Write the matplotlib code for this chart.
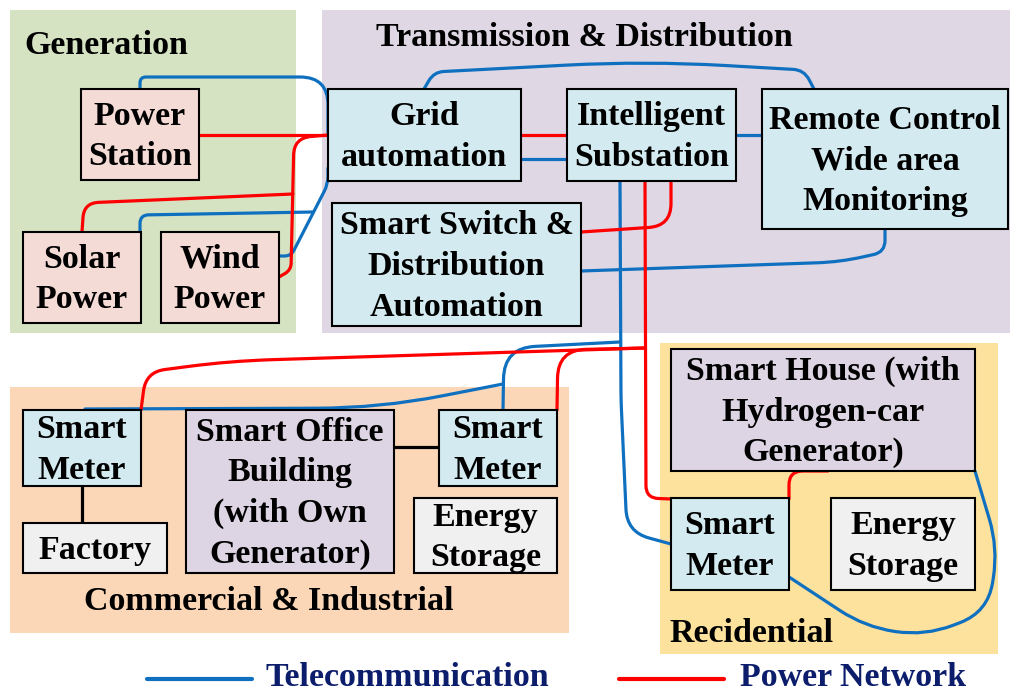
import numpy as np
import matplotlib
matplotlib.use('Agg')
import matplotlib.pyplot as plt
from matplotlib.path import Path
from matplotlib.patches import PathPatch, Rectangle

FONT = ['Liberation Serif', 'DejaVu Serif']
FS = 24.5
BLUE = '#1070c0'
RED = '#ff0000'
NAVY = '#0b1d6b'

# --- diagram content ---
region_names = ['Generation', 'Transmission & Distribution', 'Commercial & Industrial', 'Recidential']
region_colors = ['#d5e3c2', '#dfd7e4', '#fbd6b7', '#fde29e']

box_labels = [
    'Power\nStation', 'Solar\nPower', 'Wind\nPower',
    'Grid\nautomation', 'Intelligent\nSubstation', 'Remote Control\nWide area\nMonitoring',
    'Smart Switch &\nDistribution\nAutomation',
    'Smart\nMeter', 'Factory', 'Smart Office\nBuilding\n(with Own\nGenerator)', 'Smart\nMeter', 'Energy\nStorage',
    'Smart House (with\nHydrogen-car\nGenerator)', 'Smart\nMeter', 'Energy\nStorage',
]
box_kinds = ['source', 'source', 'source',
             'grid', 'grid', 'grid', 'grid',
             'grid', 'plain', 'building', 'grid', 'plain',
             'building', 'grid', 'plain']
kind_fill = {'source': '#f5dbd6', 'grid': '#d3ebf0', 'building': '#ddd5e3', 'plain': '#f0f0f0'}

legend_labels = ['Telecommunication', 'Power Network']

# --- layout (pixel coordinates, y down) ---
region_rects = [(10, 10, 296, 333), (322, 10, 1010, 333), (10, 387, 569, 633), (660, 343, 998, 654)]
region_label_pos = [(24, 45, 'left'), (584, 37, 'center'), (269, 601, 'center'), (669, 633, 'left')]

box_rects = [
    (81, 89, 199, 180), (23, 232, 141, 323), (161, 232, 279, 323),
    (328, 89, 521, 181), (567, 89, 736, 181), (762, 89, 1008, 229),
    (332, 203, 581, 326),
    (23, 410, 141, 486), (23, 523, 167, 573), (186, 410, 394, 573), (439, 410, 557, 486), (414, 498, 557, 573),
    (671, 349, 975, 471), (671, 498, 789, 590), (831, 498, 975, 590),
]

telecom_wires = [
    ([(140, 89), (140, 77), (328, 77), (328, 133)], [12, 45]),
    ([(328, 168), (328, 184), (291, 256), (278, 256)], [14, 8]),
    ([(140, 232), (140, 215), (313, 212)], [14]),
    ([(521, 159), (567, 159)], []),
    ([(736, 135), (762, 135)], []),
    ([(424, 89), (434, 72), (646, 61), (804, 70), (814, 89)], [14, 120, 14]),
    ([(885, 229), (885, 252), (840, 262), (581, 271)], [18, 30]),
    ([(620, 181), (621, 400), (627, 532), (671, 544)], [10, 30]),
    ([(620, 342), (504, 348), (503, 410)], [32]),
    ([(85, 409), (380, 408), (503, 384)], [70]),
    ([(975, 471), (998, 548), (988, 612), (925, 636), (865, 627), (789, 577)], [30, 30, 30, 30]),
]
power_wires = [
    ([(199, 135), (328, 135)], []),
    ([(328, 135), (294, 138), (291, 270), (279, 277)], [18, 8]),
    ([(82, 232), (84, 203), (293, 194)], [25]),
    ([(521, 135), (567, 135)], []),
    ([(671, 181), (671, 226), (581, 232)], [25]),
    ([(645, 181), (646, 498), (671, 499)], [15]),
    ([(645, 348), (230, 361), (146, 372), (141, 410)], [42, 19]),
    ([(557, 410), (558, 350), (645, 348)], [28]),
    ([(789, 499), (789, 471), (828, 471)], [16]),
]
black_links = [[(82, 486), (82, 523)], [(394, 447), (439, 447)]]


def rounded_path(pts, radii):
    verts = [pts[0]]
    codes = [Path.MOVETO]
    for i in range(1, len(pts) - 1):
        p0, p1, p2 = (np.array(pts[j], float) for j in (i - 1, i, i + 1))
        d1, d2 = p1 - p0, p2 - p1
        l1, l2 = np.hypot(*d1), np.hypot(*d2)
        r = min(radii[i - 1], l1 / 2, l2 / 2)
        a = p1 - d1 / l1 * r
        b = p1 + d2 / l2 * r
        verts += [tuple(a), tuple(p1), tuple(b)]
        codes += [Path.LINETO, Path.CURVE3, Path.CURVE3]
    verts.append(pts[-1])
    codes.append(Path.LINETO)
    return Path(verts, codes)


fig = plt.figure(figsize=(10.11, 6.93), dpi=100)
ax = fig.add_axes([0, 0, 1, 1])
ax.set_xlim(0, 1011)
ax.set_ylim(693, 0)
ax.axis('off')

for (x0, y0, x1, y1), c in zip(region_rects, region_colors):
    ax.add_patch(Rectangle((x0, y0), x1 - x0, y1 - y0, facecolor=c, edgecolor='none', zorder=0))
for name, (x, y, ha) in zip(region_names, region_label_pos):
    ax.text(x, y, name, ha=ha, va='center', fontsize=FS, fontweight='bold', family=FONT, zorder=5)

for pts, radii in telecom_wires:
    ax.add_patch(PathPatch(rounded_path(pts, radii), facecolor='none', edgecolor=BLUE, lw=2.3, zorder=2, capstyle='round'))
for pts, radii in power_wires:
    ax.add_patch(PathPatch(rounded_path(pts, radii), facecolor='none', edgecolor=RED, lw=2.3, zorder=2, capstyle='round'))
for pts in black_links:
    xs, ys = zip(*pts)
    ax.plot(xs, ys, color='black', lw=2.3, zorder=2)

for (x0, y0, x1, y1), label, kind in zip(box_rects, box_labels, box_kinds):
    ax.add_patch(Rectangle((x0, y0), x1 - x0, y1 - y0, facecolor=kind_fill[kind], edgecolor='black', lw=1.5, zorder=3))
    ax.text((x0 + x1) / 2, (y0 + y1) / 2 + 2, label, ha='center', va='center', fontsize=FS, fontweight='bold',
            family=FONT, linespacing=1.4, zorder=4)

# legend
ax.plot([147, 252], [679, 679], color=BLUE, lw=3, solid_capstyle='round')
ax.text(266, 677, legend_labels[0], ha='left', va='center', fontsize=FS, fontweight='bold', family=FONT, color=NAVY)
ax.plot([619, 724], [679, 679], color=RED, lw=3, solid_capstyle='round')
ax.text(740, 677, legend_labels[1], ha='left', va='center', fontsize=FS, fontweight='bold', family=FONT, color=NAVY)

fig.savefig('out.png', dpi=100, facecolor='white')
